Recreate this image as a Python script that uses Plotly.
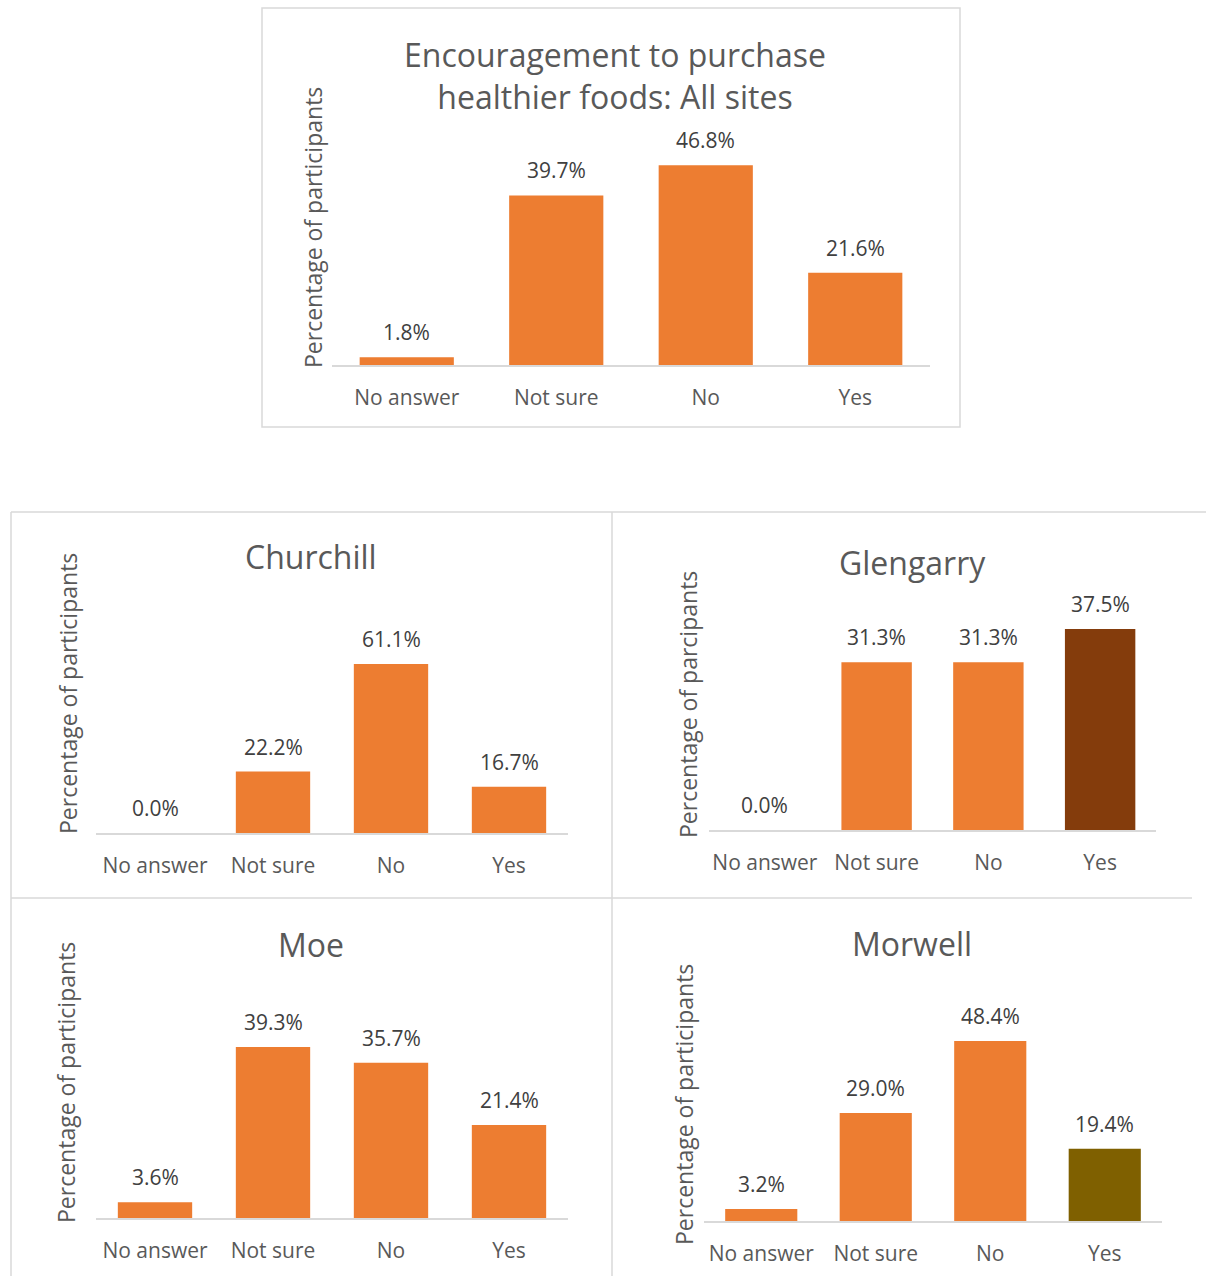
import plotly.graph_objects as go

W, H = 1206, 1276

categories = ["No answer", "Not sure", "No", "Yes"]
all_sites = [1.8, 39.7, 46.8, 21.6]
churchill = [0.0, 22.2, 61.1, 16.7]
glengarry = [0.0, 31.3, 31.3, 37.5]
moe = [3.6, 39.3, 35.7, 21.4]
morwell = [3.2, 29.0, 48.4, 19.4]

titles = ["Encouragement to purchase<br>healthier foods: All sites", "Churchill", "Glengarry", "Moe", "Morwell"]
ytitles = ["Percentage of participants", "Percentage of participants", "Percentage of parcipants",
           "Percentage of participants", "Percentage of participants"]
series = [all_sites, churchill, glengarry, moe, morwell]

ORANGE = "#ED7D31"
bar_colors = [
    [ORANGE] * 4,
    [ORANGE] * 4,
    [ORANGE, ORANGE, ORANGE, "#843C0C"],
    [ORANGE] * 4,
    [ORANGE, ORANGE, ORANGE, "#7F6000"],
]

# layout geometry in pixels: plot x0, x1, baseline y, y max value, px per unit
geo = [
    dict(x0=332, x1=930, base=365, ymax=50, ppu=4.27, tx=615, ty=75, yx=313, yy=228),
    dict(x0=96, x1=568, base=833, ymax=70, ppu=2.766, tx=311, ty=557, yx=68, yy=694),
    dict(x0=709, x1=1156, base=830, ymax=40, ppu=5.36, tx=912, ty=562, yx=688, yy=705),
    dict(x0=96, x1=568, base=1218, ymax=45, ppu=4.35, tx=311, ty=945, yx=66, yy=1083),
    dict(x0=704, x1=1162, base=1221, ymax=60, ppu=3.72, tx=912, ty=943, yx=684, yy=1105),
]

def fx(px):
    return px / W

def fy(py):
    return 1 - py / H

fig = go.Figure()
annotations = []
layout_axes = {}
FONT = "Open Sans"

for i, (vals, g) in enumerate(zip(series, geo)):
    n = i + 1
    xa = "x" if n == 1 else f"x{n}"
    ya = "y" if n == 1 else f"y{n}"
    xkey = "xaxis" if n == 1 else f"xaxis{n}"
    ykey = "yaxis" if n == 1 else f"yaxis{n}"
    fig.add_trace(go.Bar(x=categories, y=vals, marker=dict(color=bar_colors[i], line=dict(width=0)),
                         xaxis=xa, yaxis=ya, showlegend=False, hoverinfo="skip"))
    top_px = g["base"] - g["ymax"] * g["ppu"]
    layout_axes[xkey] = dict(domain=[fx(g["x0"]), fx(g["x1"])], anchor=ya, type="category",
                             showline=True, linecolor="#D9D9D9", linewidth=1.5,
                             ticks="outside", ticklen=13, tickcolor="rgba(0,0,0,0)",
                             tickfont=dict(family=FONT, size=21, color="#595959"),
                             showgrid=False, zeroline=False, fixedrange=True)
    layout_axes[ykey] = dict(domain=[fy(g["base"]), fy(top_px)], anchor=xa, range=[0, g["ymax"]],
                             showticklabels=False, showgrid=False, zeroline=False, showline=False,
                             ticks="", fixedrange=True)
    for c, v in zip(categories, vals):
        annotations.append(dict(x=c, y=v, xref=xa, yref=ya, text=f"{v:.1f}%", showarrow=False,
                                yanchor="middle", yshift=25,
                                font=dict(family=FONT, size=21, color="#404040")))
    annotations.append(dict(x=fx(g["tx"]), y=fy(g["ty"]), xref="paper", yref="paper", text=titles[i],
                            showarrow=False, xanchor="center", yanchor="middle",
                            font=dict(family=FONT, size=32, color="#595959")))
    annotations.append(dict(x=fx(g["yx"]), y=fy(g["yy"]), xref="paper", yref="paper", text=ytitles[i],
                            showarrow=False, textangle=-90, xanchor="center", yanchor="middle",
                            font=dict(family=FONT, size=23, color="#595959")))

BORDER = "#D9D9D9"
shapes = [
    dict(type="rect", xref="paper", yref="paper", x0=fx(262), x1=fx(960), y0=fy(427), y1=fy(8),
         line=dict(color=BORDER, width=1.5)),
    dict(type="line", xref="paper", yref="paper", x0=fx(11), x1=fx(1206), y0=fy(512), y1=fy(512),
         line=dict(color=BORDER, width=1.5)),
    dict(type="line", xref="paper", yref="paper", x0=fx(11), x1=fx(11), y0=fy(512), y1=fy(1276),
         line=dict(color=BORDER, width=1.5)),
    dict(type="line", xref="paper", yref="paper", x0=fx(612), x1=fx(612), y0=fy(512), y1=fy(1276),
         line=dict(color=BORDER, width=1.5)),
    dict(type="line", xref="paper", yref="paper", x0=fx(11), x1=fx(1192), y0=fy(898), y1=fy(898),
         line=dict(color=BORDER, width=1.5)),
]

fig.update_layout(width=W, height=H, margin=dict(l=0, r=0, t=0, b=0),
                  paper_bgcolor="white", plot_bgcolor="white",
                  bargap=0.37, annotations=annotations, shapes=shapes,
                  font=dict(family=FONT), **layout_axes)

fig.write_html("out.html")
